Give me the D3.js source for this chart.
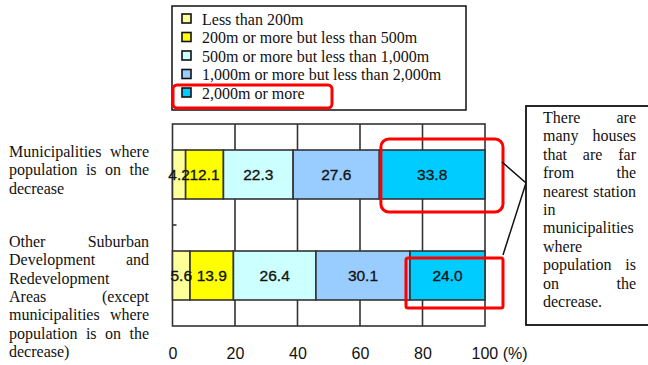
<!DOCTYPE html>
<html><head><meta charset="utf-8">
<script src="https://cdn.jsdelivr.net/npm/d3@7/dist/d3.min.js"></script>
<style>body{margin:0;background:#fff;} svg{display:block;}</style>
</head><body>
<svg id="chart" width="648" height="365"></svg>
<script>
const categories = ["Municipalities where population is on the decrease", "Other Suburban Development and Redevelopment Areas (except municipalities where population is on the decrease)"];
const seriesNames = ["Less than 200m", "200m or more but less than 500m", "500m or more but less than 1,000m", "1,000m or more but less than 2,000m", "2,000m or more"];
const seriesColors = ["#FFFF99", "#FFFF00", "#CCFFFF", "#99CCFF", "#00CCFF"];
const decreaseValues = [4.2, 12.1, 22.3, 27.6, 33.8];
const otherValues = [5.6, 13.9, 26.4, 30.1, 24.0];
const xTicks = [0, 20, 40, 60, 80, 100];
const categoryLines = [
  ["Municipalities where", "population is on the", "decrease"],
  ["Other Suburban", "Development and", "Redevelopment", "Areas (except", "municipalities where", "population is on the", "decrease)"]
];
const noteLines = ["There are", "many houses", "that are far", "from the", "nearest station", "in", "municipalities", "where", "population is", "on the", "decrease."];

const svg = d3.select("#chart");
const serif = "Liberation Serif";
const sans = "Liberation Sans";

const plot = {left: 172.5, right: 485, top: 124, bottom: 326};
const x = d3.scaleLinear().domain([0, 100]).range([plot.left, plot.right]);
const y = d3.scaleBand().domain(categories).range([plot.top, plot.bottom]).paddingInner(0.515).paddingOuter(0.2575);

const rows = [decreaseValues, otherValues];
const data = categories.map((c, i) => {
  let acc = 0;
  return rows[i].map((v, j) => { const d = {cat: c, v, j, x0: acc, x1: acc + v}; acc += v; return d; });
});

// plot background & grid
svg.append("rect").attr("x", plot.left).attr("y", plot.top).attr("width", plot.right - plot.left).attr("height", plot.bottom - plot.top)
  .attr("fill", "#fff").attr("stroke", "#333").attr("stroke-width", 1.6);
svg.append("g").selectAll("line").data(xTicks.slice(1, -1)).join("line")
  .attr("x1", d => x(d)).attr("x2", d => x(d)).attr("y1", plot.top).attr("y2", plot.bottom)
  .attr("stroke", "#333").attr("stroke-width", 1.6);
svg.append("line").attr("x1", plot.left).attr("x2", plot.left + 4).attr("y1", (plot.top + plot.bottom) / 2).attr("y2", (plot.top + plot.bottom) / 2)
  .attr("stroke", "#333").attr("stroke-width", 1.6);

// bars
const bars = svg.append("g");
data.forEach(row => {
  bars.append("g").selectAll("rect").data(row).join("rect")
    .attr("x", d => x(d.x0)).attr("y", d => y(d.cat)).attr("width", d => x(d.x1) - x(d.x0)).attr("height", y.bandwidth())
    .attr("fill", d => seriesColors[d.j]).attr("stroke", "#333").attr("stroke-width", 1.6);
  bars.append("g").selectAll("text").data(row).join("text")
    .attr("x", d => (x(d.x0) + x(d.x1)) / 2).attr("y", d => y(d.cat) + y.bandwidth() / 2 + 5.5)
    .attr("text-anchor", "middle").attr("font-family", sans).attr("font-size", 15.5)
    .attr("fill", "#111").attr("stroke", "#111").attr("stroke-width", 0.3).text(d => d.v.toFixed(1));
});

// x axis
const xAxis = svg.append("g").attr("transform", `translate(0,${plot.bottom})`)
  .call(d3.axisBottom(x).tickValues(xTicks).tickSize(0).tickPadding(22).tickFormat(d => d === 100 ? "100 (%)" : d));
xAxis.select(".domain").remove();
xAxis.selectAll("text").attr("font-family", sans).attr("font-size", 16).attr("fill", "#111");
xAxis.selectAll("text").filter(d => d === 100).attr("text-anchor", "start").attr("x", -14);

function justified(g, lines, x0, x1, y0, lh, size) {
  lines.forEach((line, i) => {
    const words = line.split(" ");
    const yy = y0 + i * lh;
    const last = i === lines.length - 1;
    if (words.length === 1 || last) {
      g.append("text").attr("x", x0).attr("y", yy).attr("font-family", serif).attr("font-size", size).attr("fill", "#111").text(line);
      return;
    }
    const nodes = words.map(w => g.append("text").attr("y", yy).attr("font-family", serif).attr("font-size", size).attr("fill", "#111").text(w));
    const widths = nodes.map(n => n.node().getComputedTextLength());
    const total = d3.sum(widths);
    const gap = (x1 - x0 - total) / (words.length - 1);
    let cx = x0;
    nodes.forEach((n, k) => { n.attr("x", cx); cx += widths[k] + gap; });
  });
}

const labG = svg.append("g");
justified(labG, categoryLines[0], 9, 149, 157, 18.4, 16);
justified(labG, categoryLines[1], 9, 149, 246.7, 18.4, 16);

// legend
svg.append("rect").attr("x", 172).attr("y", 6).attr("width", 294).attr("height", 104).attr("fill", "#fff").attr("stroke", "#111").attr("stroke-width", 1.5);
const leg = svg.append("g").selectAll("g").data(seriesNames).join("g")
  .attr("transform", (d, i) => `translate(0,${24.5 + i * 18.5})`);
leg.append("rect").attr("x", 182).attr("y", -10.5).attr("width", 9).attr("height", 9)
  .attr("fill", (d, i) => seriesColors[i]).attr("stroke", "#111").attr("stroke-width", 1.6);
leg.append("text").attr("x", 202).attr("y", 0).attr("font-family", serif).attr("font-size", 16).attr("fill", "#111").text(d => d);

// red highlights
const red = svg.append("g").attr("fill", "none").attr("stroke", "#FF0000").attr("stroke-width", 3);
red.append("rect").attr("x", 173).attr("y", 85).attr("width", 159).attr("height", 23).attr("rx", 4);
const b1 = data[0][4], b2 = data[1][4];
red.append("rect").attr("x", x(b1.x0) + 1.5).attr("y", y(b1.cat) - 11).attr("width", plot.right + 18 - x(b1.x0) - 1.5).attr("height", y.bandwidth() + 24).attr("rx", 8);
red.append("rect").attr("x", x(b2.x0) - 4).attr("y", y(b2.cat) + 7).attr("width", plot.right + 18 - x(b2.x0) + 4).attr("height", y.bandwidth() + 1).attr("rx", 2);

svg.append("path").attr("d", "M502,162 L526,183 L503,255").attr("fill", "none").attr("stroke", "#111").attr("stroke-width", 1.5);

svg.append("rect").attr("x", 526).attr("y", 106).attr("width", 140).attr("height", 219).attr("fill", "#fff").attr("stroke", "#111").attr("stroke-width", 1.8);
justified(svg.append("g"), noteLines, 543, 636, 123, 18.4, 16);
</script>
</body></html>
